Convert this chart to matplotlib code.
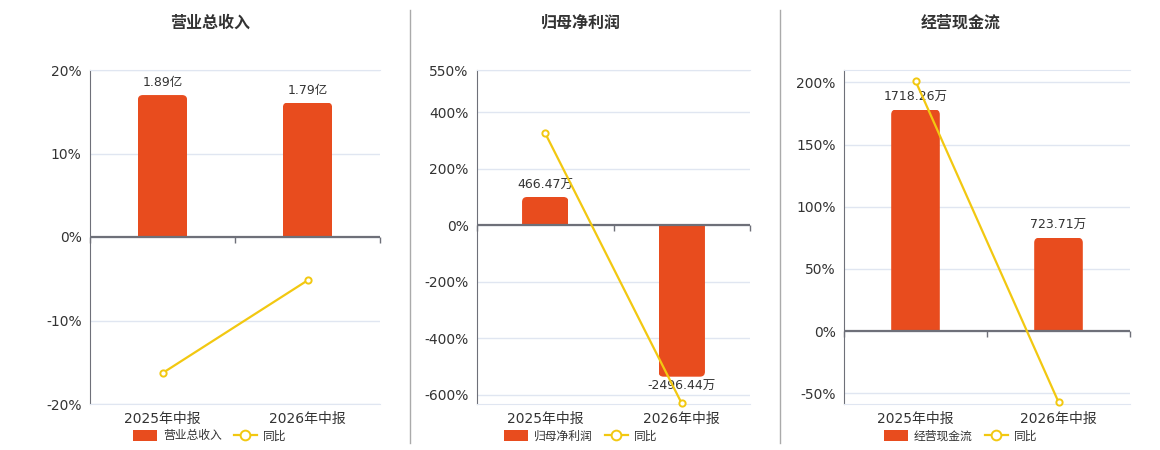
import numpy as np
import matplotlib
matplotlib.use("Agg")
import matplotlib.pyplot as plt
from matplotlib.patches import FancyBboxPatch, Rectangle, Patch
from matplotlib.lines import Line2D

plt.rcParams['font.family'] = ['DejaVu Sans', 'Noto Sans CJK SC']

# ---- data ----
categories = ['2025年中报', '2026年中报']

revenue = [1.89, 1.79]            # 亿
revenue_labels = ['1.89亿', '1.79亿']
revenue_yoy = [-16.3, -5.2]       # %

profit = [466.47, -2496.44]       # 万
profit_labels = ['466.47万', '-2496.44万']
profit_yoy = [325.7, -631.0]

cashflow = [1718.26, 723.71]      # 万
cashflow_labels = ['1718.26万', '723.71万']
cashflow_yoy = [201.2, -57.1]

titles = ['营业总收入', '归母净利润', '经营现金流']

BAR = '#E84C1E'
LINE = '#F2C811'
GRID = '#E0E6F1'
AXIS = '#6E7079'
TEXT = '#333333'

W, H = 1160, 450
fig = plt.figure(figsize=(W / 100, H / 100), dpi=100)


def px_axes(left, right, top, bottom):
    return fig.add_axes([left / W, 1 - bottom / H, (right - left) / W, (bottom - top) / H])


def panel(box, values, labels, yoy, ylim, yticks, bar_pct, title, title_x):
    # bar axis sits below, percentage axis on top
    ax = px_axes(*box)
    axb = ax.twinx()
    ax.set_zorder(axb.get_zorder() + 1)
    ax.patch.set_visible(False)

    k = values[0] / bar_pct  # bar units per percent
    axb.set_ylim(ylim[0] * k, ylim[1] * k)
    ax.set_ylim(*ylim)
    ax.set_xlim(-0.5, len(categories) - 0.5)
    axb.set_xlim(-0.5, len(categories) - 0.5)

    # grid on the bar axis so bars cover it
    axb.set_axisbelow(True)
    axb.set_yticks([t * k for t in yticks])
    axb.yaxis.grid(True, color=GRID, lw=1, zorder=0)
    axb.tick_params(axis='y', length=0, labelright=False)
    for s in axb.spines.values():
        s.set_visible(False)

    x = np.arange(len(categories))
    bars = axb.bar(x, values, width=0.34, color=BAR)
    # rounded ends away from zero: draw a longer rounded box, clip it to the bar
    px_per_y = (box[3] - box[2]) / ((ylim[1] - ylim[0]) * k)
    px_per_x = (box[1] - box[0]) / len(categories)
    r = 5 / px_per_x
    for b in bars:
        b.set_visible(False)
        x0, w, hgt = b.get_x(), b.get_width(), b.get_height()
        ext = abs(hgt) * 0.5
        lo = -ext if hgt >= 0 else hgt
        p = FancyBboxPatch((x0, lo), w, abs(hgt) + ext,
                           boxstyle=f"round,pad=0,rounding_size={r}",
                           mutation_aspect=px_per_x / px_per_y,
                           fc=BAR, ec='none', zorder=2)
        axb.add_patch(p)
        clip = Rectangle((x0, min(0, hgt)), w, abs(hgt), transform=axb.transData)
        p.set_clip_path(clip)
    for xi, v, lab in zip(x, values, labels):
        if v >= 0:
            axb.annotate(lab, (xi, v), xytext=(0, 4), textcoords='offset points',
                         ha='center', va='bottom', fontsize=9, color=TEXT)
        else:
            axb.annotate(lab, (xi, v), xytext=(0, -2), textcoords='offset points',
                         ha='center', va='top', fontsize=9, color=TEXT)

    # zero axis line with category boundary ticks
    ax.axhline(0, color=AXIS, lw=1.6, zorder=3)
    bounds = np.arange(len(categories) + 1) - 0.5
    ax.plot(bounds, np.zeros_like(bounds), ls='none', marker=3, ms=4, mew=1,
            color=AXIS, clip_on=False, zorder=3)

    # yoy line
    ax.plot(x, yoy, color=LINE, lw=1.6, marker='o', ms=4.5, mfc='white',
            mec=LINE, mew=1.4, zorder=5, clip_on=False)

    ax.set_yticks(yticks)
    ax.set_yticklabels([f'{t}%' for t in yticks])
    ax.tick_params(axis='y', length=0, pad=6, labelsize=10, labelcolor=TEXT)
    ax.set_xticks(x)
    ax.set_xticklabels(categories)
    ax.tick_params(axis='x', length=0, pad=6, labelsize=10, labelcolor=TEXT)

    ax.spines['left'].set_color(AXIS)
    ax.spines['right'].set_visible(False)
    ax.spines['top'].set_color(GRID)
    ax.spines['bottom'].set_color(GRID)

    fig.text(title_x / W, 1 - 23 / H, title, ha='center', va='center',
             fontsize=11.5, fontweight='bold', color=TEXT)

    handles = [Patch(fc=BAR, ec='none'),
               Line2D([], [], color=LINE, lw=1.6, marker='o', ms=7, mfc='white', mec=LINE, mew=1.4)]
    ax.legend(handles, [title, '同比'], loc='center', ncol=2, frameon=False,
              bbox_to_anchor=(title_x / W, 1 - 436 / H), bbox_transform=fig.transFigure,
              fontsize=8.5, handlelength=2.0, handleheight=1.0, columnspacing=1.0,
              handletextpad=0.5, labelcolor=TEXT)


panel((90, 380, 70, 404), revenue, revenue_labels, revenue_yoy,
      (-20, 20), [-20, -10, 0, 10, 20], 17.0, titles[0], 210)
panel((477, 750, 70, 404), profit, profit_labels, profit_yoy,
      (-633, 550), [-600, -400, -200, 0, 200, 400, 550], 100.2, titles[1], 581)
panel((844, 1130, 70, 404), cashflow, cashflow_labels, cashflow_yoy,
      (-58.7, 210), [-50, 0, 50, 100, 150, 200], 178.2, titles[2], 961)

# panel dividers
for xd in (410, 780):
    fig.add_artist(Line2D([xd / W, xd / W], [1 - 10 / H, 1 - 443 / H],
                          color='#AAAAAA', lw=1))

fig.savefig('out.png', dpi=100, facecolor='white')
